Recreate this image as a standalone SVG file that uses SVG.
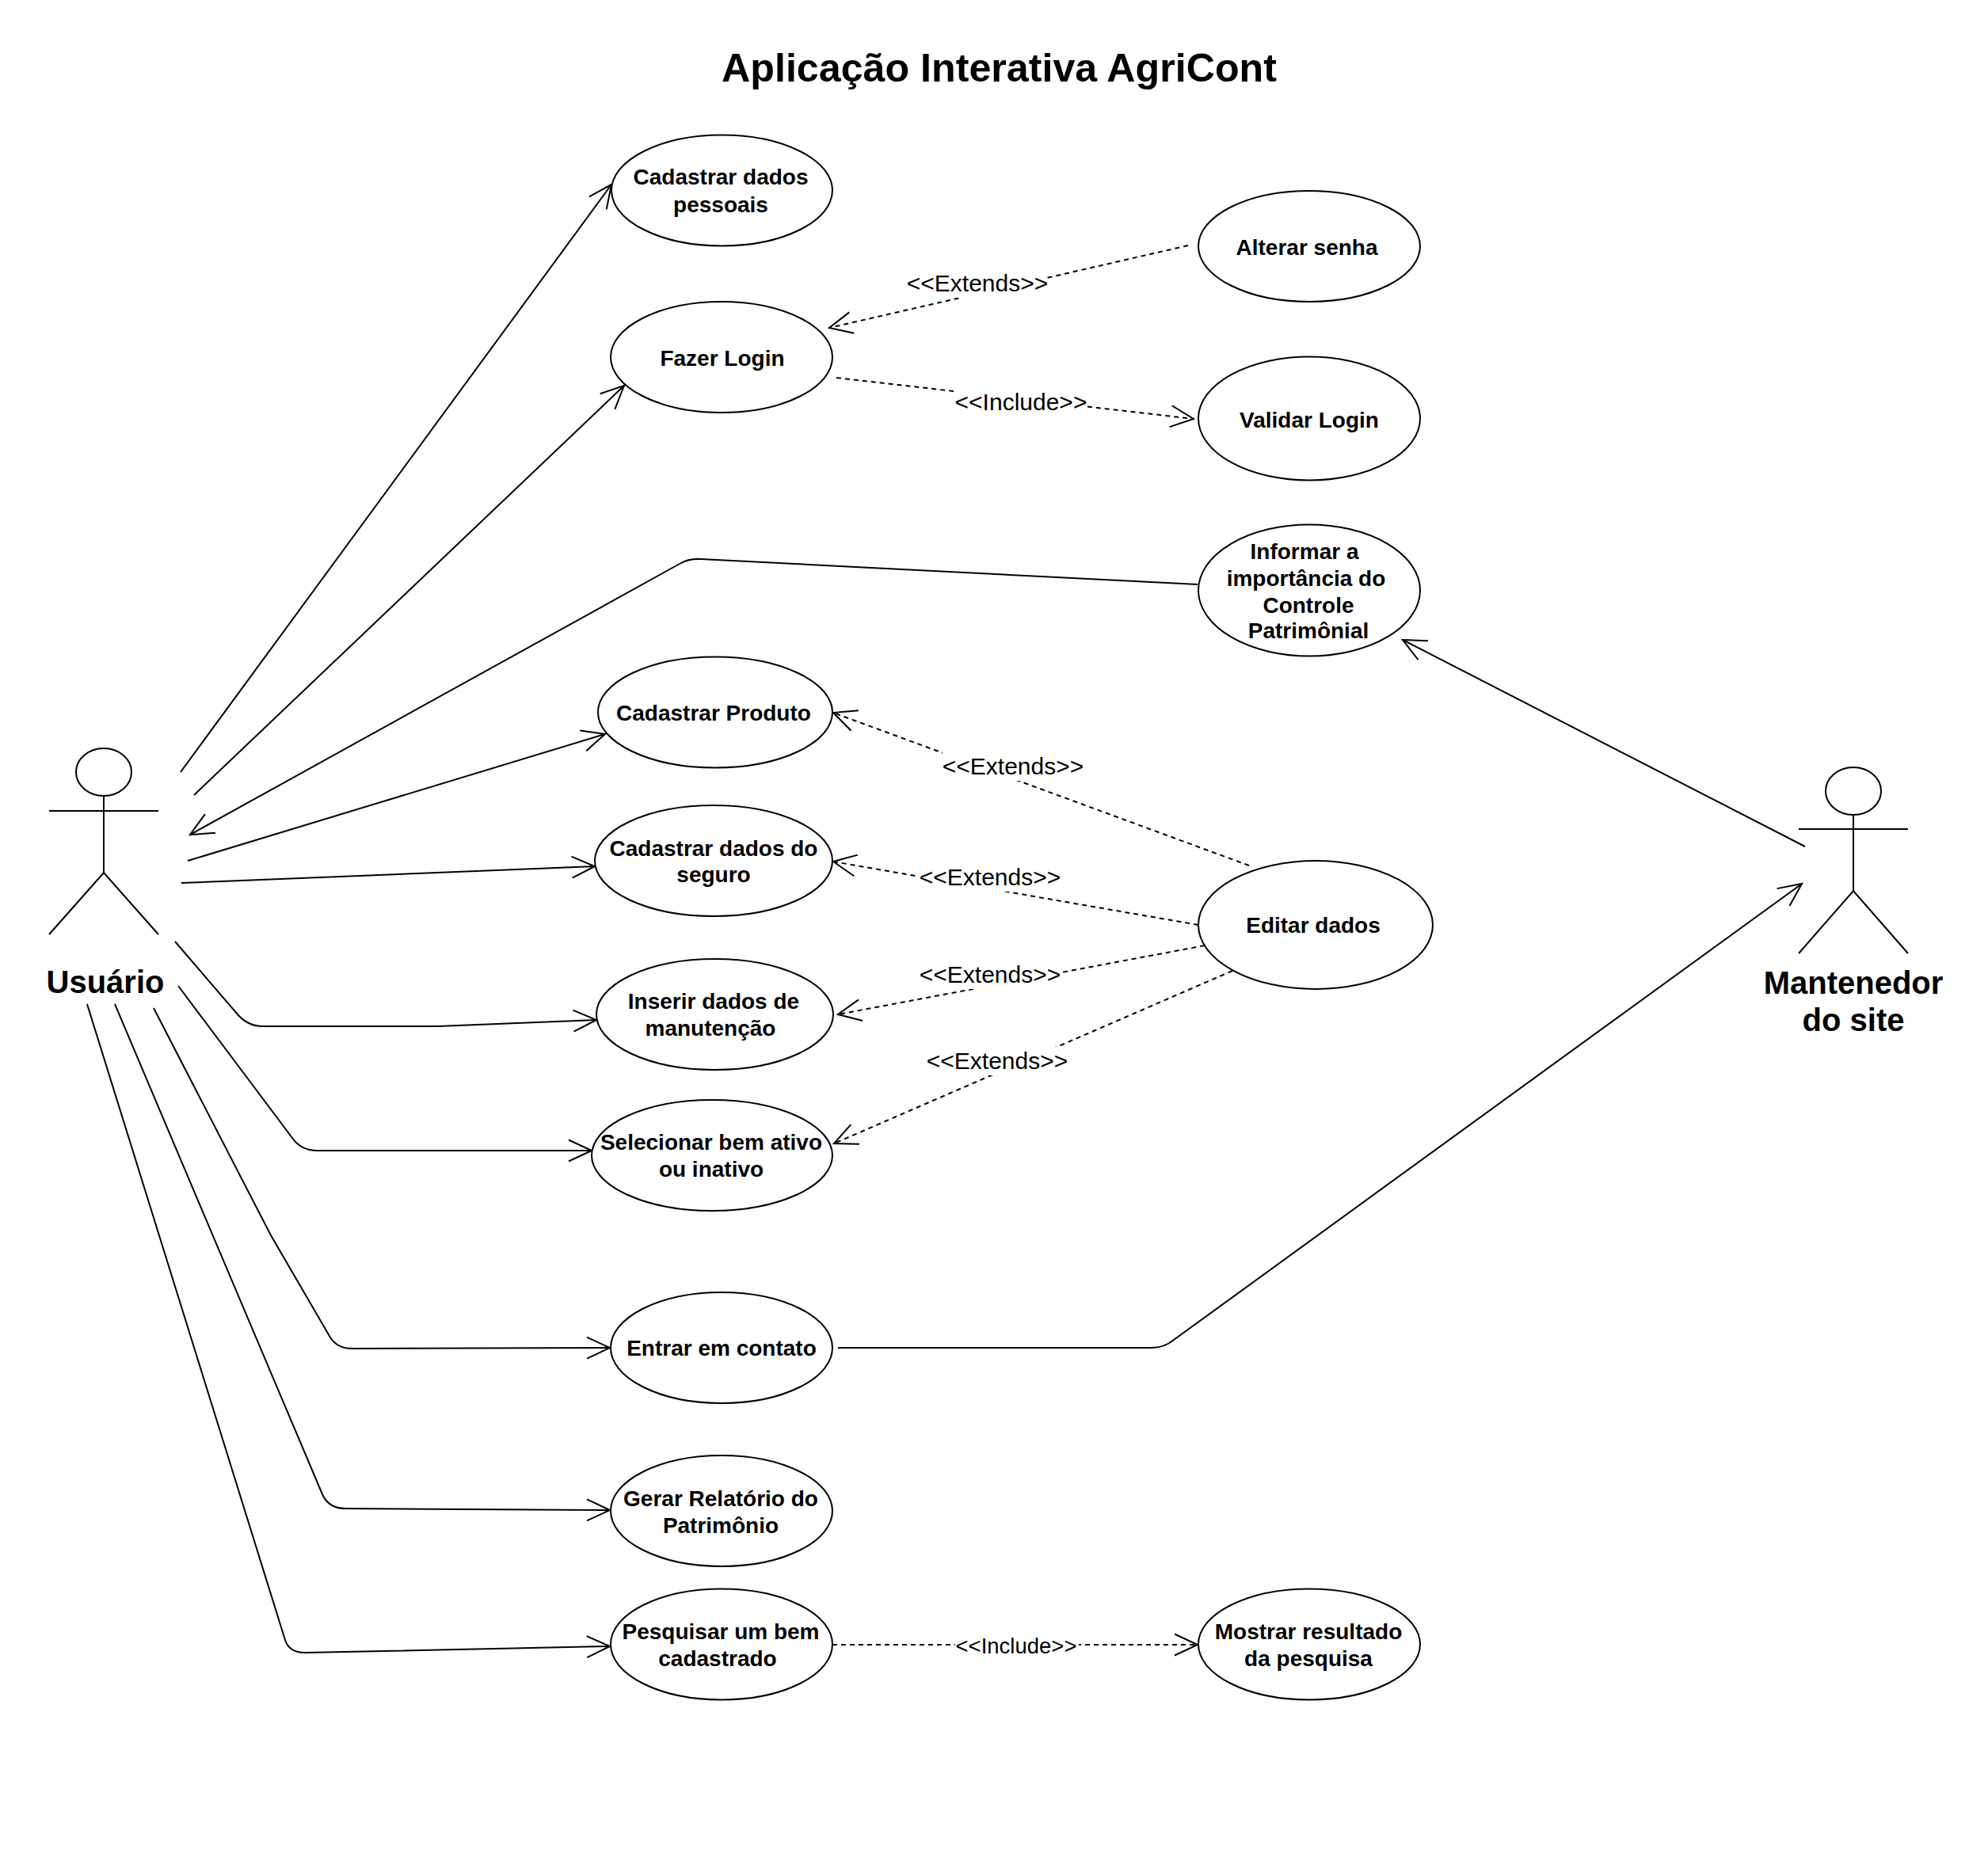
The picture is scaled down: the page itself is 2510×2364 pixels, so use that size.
<svg xmlns="http://www.w3.org/2000/svg" width="2510" height="2364" viewBox="0 0 2510 2364">
<defs>
<style>
.s{fill:none;stroke:#000;stroke-width:2}
.e{fill:#fff;stroke:#000;stroke-width:2}
.c{fill:none;stroke:#000;stroke-width:2;marker-end:url(#open)}
.d{fill:none;stroke:#000;stroke-width:2;stroke-dasharray:6 5;marker-end:url(#open)}
text{font-family:"Liberation Sans",Arial,sans-serif;fill:#000;text-anchor:middle}
.n{font-size:28px;font-weight:bold}
.a{font-size:40px;font-weight:bold}
.t{font-size:50px;font-weight:bold}
.l{font-size:30px}
.l2{font-size:27.5px}
.b{fill:#fff;stroke:none}
</style>
<marker id="open" markerUnits="userSpaceOnUse" markerWidth="40" markerHeight="40" viewBox="-34 -20 40 40" refX="0" refY="0" orient="auto"><path d="M-29,-13.5 L0,0 L-29,13.5" fill="none" stroke="#000" stroke-width="2"/></marker>
</defs>
<rect width="2510" height="2364" fill="#fff"/>
<text class="t" x="1261.5" y="103" style="font-size:50.2px">Aplicação Interativa AgriCont</text>
<g id="connectors">
<path class="c" d="M228,975 L772,233"/>
<path class="c" d="M245,1004 L788,487"/>
<path class="c" d="M1512,738 L885,706 Q870,705 858,712 L240,1054"/>
<path class="c" d="M237,1087 L764,927"/>
<path class="c" d="M229,1115 L751,1094"/>
<path class="c" d="M221,1189 L300,1281 Q313,1296 332,1296 L553,1296 L753,1288"/>
<path class="c" d="M225,1245 L369,1437 Q380,1453 401,1453 L747,1453"/>
<path class="c" d="M194,1273 L342,1560 L417,1689 Q426,1703 445,1703 L770,1702"/>
<path class="c" d="M145,1268 L407,1887 Q415,1905 436,1905 L770,1907"/>
<path class="c" d="M110,1268 L360,2071 Q365,2087 385,2087 L770,2079"/>
<path class="c" d="M2279,1069 L1771,808"/>
<path class="c" d="M1058,1702 L1454,1702 Q1470,1702 1482,1692 L2275,1116"/>
<path class="d" d="M1500,310 L1047,414"/>
<path class="d" d="M1056,477 L1507,529"/>
<path class="d" d="M1577,1093 L1052,900"/>
<path class="d" d="M1513,1168 L1052,1088"/>
<path class="d" d="M1521,1194 L1058,1281"/>
<path class="d" d="M1556,1226 L1053,1444"/>
<path class="d" d="M1051,2077 L1512,2077"/>
<rect class="b" x="1144" y="340" width="178" height="36"/>
<text class="l" x="1234" y="368">&lt;&lt;Extends&gt;&gt;</text>
<rect class="b" x="1205" y="490" width="168" height="36"/>
<text class="l" x="1289" y="518">&lt;&lt;Include&gt;&gt;</text>
<rect class="b" x="1190" y="950" width="178" height="36"/>
<text class="l" x="1279" y="978">&lt;&lt;Extends&gt;&gt;</text>
<rect class="b" x="1160" y="1090" width="178" height="36"/>
<text class="l" x="1250" y="1118">&lt;&lt;Extends&gt;&gt;</text>
<rect class="b" x="1160" y="1213" width="178" height="36"/>
<text class="l" x="1250" y="1241">&lt;&lt;Extends&gt;&gt;</text>
<rect class="b" x="1169" y="1322" width="178" height="36"/>
<text class="l" x="1259" y="1350">&lt;&lt;Extends&gt;&gt;</text>
<rect class="b" x="1206" y="2060" width="156" height="34"/>
<text class="l2" x="1283" y="2088">&lt;&lt;Include&gt;&gt;</text>
</g>
<g id="actor-usuario">
<ellipse class="s" cx="131" cy="975" rx="35" ry="30"/>
<path class="s" d="M131,1005 V1102 M62,1024 H200 M62,1180 L131,1102 L200,1180"/>
<text class="a" x="133" y="1254">Usuário</text>
</g>
<g id="actor-mantenedor">
<ellipse class="s" cx="2340" cy="999" rx="35" ry="30"/>
<path class="s" d="M2340,1029 V1125 M2271,1047 H2409 M2271,1204 L2340,1125 L2409,1204"/>
<text class="a" x="2340" y="1255">Mantenedor</text>
<text class="a" x="2340" y="1302">do site</text>
</g>
<g id="uc-cadastrar-pessoais"><ellipse class="e" cx="911.5" cy="240.5" rx="139.5" ry="70"/><text class="n" x="910" y="233">Cadastrar dados</text><text class="n" x="910" y="268">pessoais</text></g>
<g id="uc-fazer-login"><ellipse class="e" cx="911" cy="451" rx="140" ry="70"/><text class="n" x="912" y="462">Fazer Login</text></g>
<g id="uc-alterar-senha"><ellipse class="e" cx="1653" cy="311" rx="140" ry="70"/><text class="n" x="1650" y="322">Alterar senha</text></g>
<g id="uc-validar-login"><ellipse class="e" cx="1653" cy="528.5" rx="140" ry="78"/><text class="n" x="1653" y="540">Validar Login</text></g>
<g id="uc-informar"><ellipse class="e" cx="1653" cy="745.5" rx="140" ry="83"/><text class="n" x="1647" y="706">Informar a</text><text class="n" x="1649" y="740">importância do</text><text class="n" x="1652" y="774">Controle</text><text class="n" x="1652" y="806">Patrimônial</text></g>
<g id="uc-cadastrar-produto"><ellipse class="e" cx="903" cy="899.5" rx="148" ry="70"/><text class="n" x="901" y="910">Cadastrar Produto</text></g>
<g id="uc-cadastrar-seguro"><ellipse class="e" cx="901" cy="1087" rx="150" ry="70"/><text class="n" x="901" y="1081">Cadastrar dados do</text><text class="n" x="901" y="1114">seguro</text></g>
<g id="uc-inserir"><ellipse class="e" cx="902.5" cy="1281" rx="149.5" ry="70"/><text class="n" x="901" y="1274">Inserir dados de</text><text class="n" x="897" y="1308">manutenção</text></g>
<g id="uc-selecionar"><ellipse class="e" cx="899" cy="1459" rx="152" ry="70"/><text class="n" x="898" y="1452">Selecionar bem ativo</text><text class="n" x="898" y="1486">ou inativo</text></g>
<g id="uc-entrar"><ellipse class="e" cx="911" cy="1702" rx="140" ry="70"/><text class="n" x="911" y="1712">Entrar em contato</text></g>
<g id="uc-gerar"><ellipse class="e" cx="911" cy="1908" rx="140" ry="70"/><text class="n" x="910" y="1902">Gerar Relatório do</text><text class="n" x="910" y="1936">Patrimônio</text></g>
<g id="uc-pesquisar"><ellipse class="e" cx="911" cy="2076.5" rx="140" ry="70"/><text class="n" x="910" y="2070">Pesquisar um bem</text><text class="n" x="906" y="2104">cadastrado</text></g>
<g id="uc-mostrar"><ellipse class="e" cx="1653" cy="2076.5" rx="140" ry="70"/><text class="n" x="1652" y="2070">Mostrar resultado</text><text class="n" x="1652" y="2104">da pesquisa</text></g>
<g id="uc-editar"><ellipse class="e" cx="1661" cy="1168" rx="148" ry="81"/><text class="n" x="1658" y="1178">Editar dados</text></g>
</svg>
